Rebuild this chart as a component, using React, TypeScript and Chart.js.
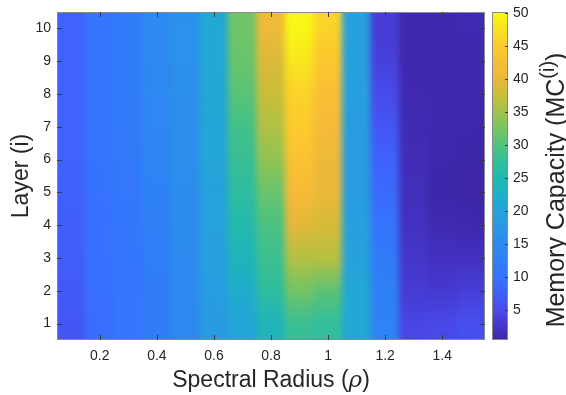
import React, { useEffect, useRef } from 'react';
import { Chart, registerables } from 'chart.js';

Chart.register(...registerables);

// ---- data ----
const rhoValues = [0.1, 0.2, 0.3, 0.4, 0.5, 0.6, 0.7, 0.8, 0.9, 1.0, 1.1, 1.2, 1.3, 1.4, 1.5];
const layerNumbers = [1, 2, 3, 4, 5, 6, 7, 8, 9, 10];
const rhoTickLabels = ['0.2', '0.4', '0.6', '0.8', '1', '1.2', '1.4'];
const colorbarTicks = [5, 10, 15, 20, 25, 30, 35, 40, 45, 50];
const colorMin = 0.5;
const colorMax = 50.2;

// Memory capacity per layer, one value per spectral radius (rho = 0.1 ... 1.5)
const mcLayer1 = [6.5, 9.5, 10.5, 12, 14.5, 18.5, 20.5, 24, 28, 27.5, 21, 13.5, 4.5, 4.8, 5.5];
const mcLayer2 = [7, 9.8, 10.5, 12, 15, 19, 22, 27, 32, 30.5, 21, 13, 3.5, 3.2, 3.8];
const mcLayer3 = [7.2, 10, 10.8, 12.5, 15, 19.5, 24, 28.3, 36, 36.5, 20, 12, 2.8, 2.2, 2.2];
const mcLayer4 = [7.5, 10, 11, 13, 15.5, 20, 25.5, 29.5, 39.5, 38.5, 19.5, 10.5, 2.2, 1.2, 1];
const mcLayer5 = [7.8, 10.2, 11.3, 13.5, 15.5, 20, 27, 31.5, 42, 40.5, 19, 9, 1.8, 0.7, 0.5];
const mcLayer6 = [8, 10.3, 11.5, 14, 16, 20.5, 28, 34, 43.5, 41, 19, 8, 1.5, 0.8, 0.6];
const mcLayer7 = [8, 10.5, 11.8, 14.3, 16, 20.5, 29, 36, 45, 42, 19, 6.5, 1.3, 0.9, 0.8];
const mcLayer8 = [8, 10.5, 12, 14.5, 16.3, 21, 30.5, 37.5, 46, 43, 19.5, 5, 1.1, 0.9, 0.9];
const mcLayer9 = [8, 10.5, 12, 14.8, 16.5, 21, 31.5, 39, 48, 44.5, 19.5, 4, 1, 0.9, 1];
const mcLayer10 = [8, 10.5, 12, 15, 16.5, 21, 32, 41, 49.8, 46, 19.5, 3.5, 1, 0.9, 1.1];
const mcByLayer = [mcLayer1, mcLayer2, mcLayer3, mcLayer4, mcLayer5, mcLayer6, mcLayer7, mcLayer8, mcLayer9, mcLayer10];

// ---- colormap (parula-like), anchors by MC value ----
const cmapAnchors: number[][] = [
  [0.5, 62, 38, 168],
  [3, 70, 55, 205],
  [5, 72, 75, 235],
  [7.5, 65, 95, 250],
  [10, 55, 114, 254],
  [12.5, 48, 127, 248],
  [15, 45, 138, 240],
  [17.5, 42, 150, 230],
  [20, 38, 162, 220],
  [22.5, 30, 175, 200],
  [25, 32, 184, 176],
  [27.5, 50, 190, 155],
  [30, 80, 195, 125],
  [32.5, 120, 196, 98],
  [35, 160, 195, 75],
  [37.5, 200, 190, 58],
  [40, 232, 184, 58],
  [42.5, 248, 188, 55],
  [45, 253, 202, 45],
  [47.5, 248, 225, 35],
  [50.2, 249, 251, 20],
];

function parula(v: number): string {
  const x = Math.max(cmapAnchors[0][0], Math.min(cmapAnchors[cmapAnchors.length - 1][0], v));
  for (let i = 1; i < cmapAnchors.length; i++) {
    const a = cmapAnchors[i - 1];
    const b = cmapAnchors[i];
    if (x <= b[0]) {
      const f = (x - a[0]) / (b[0] - a[0]);
      const r = Math.round(a[1] + (b[1] - a[1]) * f);
      const g = Math.round(a[2] + (b[2] - a[2]) * f);
      const bl = Math.round(a[3] + (b[3] - a[3]) * f);
      return `rgb(${r},${g},${bl})`;
    }
  }
  return 'rgb(249,251,20)';
}

const FONT = "'Liberation Sans', Arial, Helvetica, sans-serif";
const TEXT = '#262626';

// Smooth the cell image: bilinear between row centres, light blur across columns
const smoothPlugin = {
  id: 'smoothHeat',
  afterDatasetsDraw(chart: any) {
    const { ctx, chartArea: a, canvas } = chart;
    const L = Math.round(a.left);
    const T = Math.round(a.top);
    const w = Math.round(a.right - a.left);
    const h = Math.round(a.bottom - a.top);
    const rows = layerNumbers.length;
    const small = document.createElement('canvas');
    small.width = w;
    small.height = rows;
    const sctx = small.getContext('2d')!;
    sctx.imageSmoothingEnabled = false;
    for (let r = 0; r < rows; r++) {
      const yc = Math.round(T + (r + 0.5) * (h / rows));
      sctx.drawImage(canvas, L, yc, w, 1, 0, r, w, 1);
    }
    const big = document.createElement('canvas');
    big.width = w;
    big.height = h;
    const bctx = big.getContext('2d')!;
    bctx.imageSmoothingEnabled = true;
    bctx.imageSmoothingQuality = 'low';
    bctx.drawImage(small, 0, 0, w, rows, 0, 0, w, h);
    ctx.save();
    ctx.beginPath();
    ctx.rect(a.left, a.top, a.right - a.left, a.bottom - a.top);
    ctx.clip();
    ctx.drawImage(big, L, T);
    ctx.filter = 'blur(3px)';
    ctx.drawImage(big, L, T);
    ctx.restore();
  },
};

const decorPlugin = {
  id: 'decor',
  afterDraw(chart: any) {
    const { ctx, chartArea: a, scales } = chart;
    const xs = scales.x;
    const ys = scales.y;
    const cb = scales.cb;
    ctx.save();
    // axes box
    ctx.strokeStyle = '#8a8a8a';
    ctx.lineWidth = 1;
    ctx.strokeRect(Math.round(a.left) + 0.5, Math.round(a.top) + 0.5, Math.round(a.right - a.left) - 1, Math.round(a.bottom - a.top) - 1);
    // ticks (inward, all four sides)
    ctx.strokeStyle = '#3a3a3a';
    ctx.beginPath();
    rhoValues.forEach((v, i) => {
      if (!rhoTickLabels.includes(String(v))) return;
      const x = Math.round(xs.getPixelForTick(i)) + 0.5;
      ctx.moveTo(x, a.bottom);
      ctx.lineTo(x, a.bottom - 5);
      ctx.moveTo(x, a.top);
      ctx.lineTo(x, a.top + 5);
    });
    layerNumbers.forEach((v) => {
      const y = Math.round(ys.getPixelForValue(v)) + 0.5;
      ctx.moveTo(a.left, y);
      ctx.lineTo(a.left + 5, y);
      ctx.moveTo(a.right, y);
      ctx.lineTo(a.right - 5, y);
    });
    ctx.stroke();

    // colorbar
    const cx = Math.round(a.right) + 7;
    const cw = 16;
    const top = Math.round(a.top);
    const bottom = Math.round(a.bottom);
    for (let py = top; py < bottom; py++) {
      ctx.fillStyle = parula(cb.getValueForPixel(py + 0.5));
      ctx.fillRect(cx, py, cw, 1);
    }
    ctx.strokeStyle = '#8a8a8a';
    ctx.strokeRect(cx + 0.5, top + 0.5, cw - 1, bottom - top - 1);
    ctx.strokeStyle = '#3a3a3a';
    ctx.beginPath();
    colorbarTicks.forEach((v) => {
      const y = Math.round(cb.getPixelForValue(v)) + 0.5;
      ctx.moveTo(cx + cw, y);
      ctx.lineTo(cx + cw - 3, y);
    });
    ctx.stroke();

    // titles
    ctx.fillStyle = TEXT;
    ctx.textBaseline = 'alphabetic';
    const fs = 23;
    // x title with italic rho
    const p1 = 'Spectral Radius (';
    const p2 = 'ρ';
    const p3 = ')';
    ctx.font = `${fs}px ${FONT}`;
    const w1 = ctx.measureText(p1).width;
    const w3 = ctx.measureText(p3).width;
    ctx.font = `italic ${fs}px 'DejaVu Serif', serif`;
    const w2 = ctx.measureText(p2).width;
    const total = w1 + w2 + w3;
    const x0 = (a.left + a.right) / 2 - total / 2;
    const by = 387;
    ctx.textAlign = 'left';
    ctx.font = `${fs}px ${FONT}`;
    ctx.fillText(p1, x0, by);
    ctx.font = `italic ${fs}px 'DejaVu Serif', serif`;
    ctx.fillText(p2, x0 + w1, by);
    ctx.font = `${fs}px ${FONT}`;
    ctx.fillText(p3, x0 + w1 + w2, by);

    // y title
    ctx.save();
    ctx.translate(28, (a.top + a.bottom) / 2);
    ctx.rotate(-Math.PI / 2);
    ctx.textAlign = 'center';
    ctx.font = `${fs}px ${FONT}`;
    ctx.fillText('Layer (i)', 0, 0);
    ctx.restore();

    // colorbar title with superscript
    const cfs = 25;
    ctx.save();
    ctx.translate(564, 190);
    ctx.rotate(-Math.PI / 2);
    ctx.textAlign = 'left';
    const q1 = 'Memory Capacity (MC';
    const q2 = '(i)';
    const q3 = ')';
    const sfs = Math.round(cfs * 0.8);
    ctx.font = `${cfs}px ${FONT}`;
    const u1 = ctx.measureText(q1).width;
    const u3 = ctx.measureText(q3).width;
    ctx.font = `${sfs}px ${FONT}`;
    const u2 = ctx.measureText(q2).width;
    const tot = u1 + u2 + u3;
    const s0 = -tot / 2;
    ctx.font = `${cfs}px ${FONT}`;
    ctx.fillText(q1, s0, 0);
    ctx.font = `${sfs}px ${FONT}`;
    ctx.fillText(q2, s0 + u1, -cfs * 0.42);
    ctx.font = `${cfs}px ${FONT}`;
    ctx.fillText(q3, s0 + u1 + u2, 0);
    ctx.restore();

    ctx.restore();
  },
};

export default function App() {
  const ref = useRef<HTMLCanvasElement>(null);
  useEffect(() => {
    const canvas = ref.current;
    if (!canvas) return;
    const chart = new Chart(canvas, {
      type: 'bar',
      data: {
        labels: rhoValues.map((v) => String(v)),
        datasets: layerNumbers.map((layer, i) => ({
          label: `Layer ${layer}`,
          data: rhoValues.map(() => [layer - 0.5, layer + 0.5]),
          backgroundColor: mcByLayer[i].map(parula),
          borderWidth: 0,
          barPercentage: 1,
          categoryPercentage: 1,
          grouped: false,
          yAxisID: 'y',
        })) as any,
      },
      options: {
        responsive: false,
        animation: false,
        events: [],
        layout: { padding: { top: 12, left: 0, right: 0, bottom: 0 } },
        plugins: { legend: { display: false }, tooltip: { enabled: false }, title: { display: false } },
        scales: {
          x: {
            type: 'category',
            grid: { display: false, drawTicks: false },
            border: { display: false },
            ticks: {
              autoSkip: false,
              maxRotation: 0,
              padding: 8,
              color: TEXT,
              font: { size: 14, family: FONT },
              callback: (_v: any, i: number) => {
                const s = String(rhoValues[i]);
                return rhoTickLabels.includes(s) ? s : '';
              },
            },
            afterFit: (s: any) => {
              s.height = 55;
              s.paddingLeft = 0;
              s.paddingRight = 0;
            },
          },
          y: {
            type: 'linear',
            min: 0.5,
            max: 10.5,
            grid: { display: false, drawTicks: false },
            border: { display: false },
            afterBuildTicks: (s: any) => {
              s.ticks = layerNumbers.map((v) => ({ value: v }));
            },
            ticks: { padding: 6, color: TEXT, font: { size: 14, family: FONT } },
            afterFit: (s: any) => {
              s.width = 57;
              s.paddingTop = 0;
              s.paddingBottom = 0;
            },
          },
          cb: {
            type: 'linear',
            position: 'right',
            min: colorMin,
            max: colorMax,
            grid: { display: false, drawTicks: false },
            border: { display: false },
            afterBuildTicks: (s: any) => {
              s.ticks = colorbarTicks.map((v) => ({ value: v }));
            },
            ticks: { padding: 28, color: TEXT, font: { size: 14, family: FONT } },
            afterFit: (s: any) => {
              s.width = 81;
              s.paddingTop = 0;
              s.paddingBottom = 0;
            },
          },
        },
      } as any,
      plugins: [smoothPlugin, decorPlugin],
    });
    return () => chart.destroy();
  }, []);
  return (
    <div style={{ position: 'absolute', left: 0, top: 0, width: 566, height: 395, background: '#fff' }}>
      <canvas ref={ref} width={566} height={395} style={{ display: 'block' }} />
    </div>
  );
}
